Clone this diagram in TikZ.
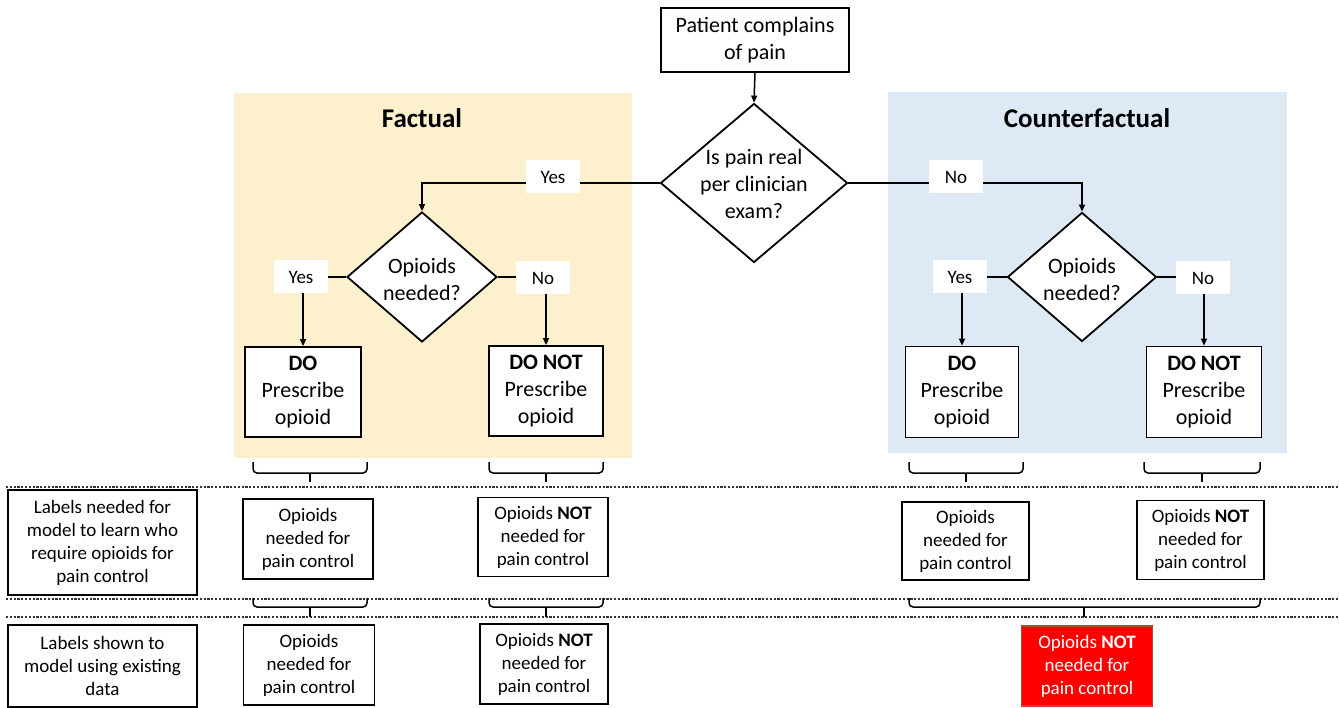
\documentclass[tikz,border=0pt]{standalone}
\usepackage{fontspec}
\setmainfont{Carlito}
\usetikzlibrary{arrows.meta,shapes.geometric}
\definecolor{factfill}{HTML}{FDF0CD}
\definecolor{cfill}{HTML}{DDE9F5}
\definecolor{alertred}{HTML}{FF0000}
\definecolor{alertedge}{HTML}{B5472F}
\begin{document}
\begin{tikzpicture}[x=1pt,y=-1pt,
  box/.style={draw,line width=1.8pt,fill=white,align=center,inner sep=0pt,
    font=\fontsize{22}{27}\selectfont},
  lab/.style={box,font=\fontsize{19}{23}\selectfont},
  dia/.style={draw,line width=1.8pt,fill=white,diamond,inner sep=0pt},
  dtext/.style={align=center,inner sep=0pt,font=\fontsize{22}{27}\selectfont},
  tag/.style={fill=white,inner sep=0pt,minimum width=54pt,minimum height=33pt,
    font=\fontsize{19}{23}\selectfont},
  arr/.style={line width=1.5pt,-{Triangle[length=7pt,width=6pt]}},
  brk/.style={line width=1.5pt,rounded corners=4pt},
  tick/.style={line width=2.6pt},
  sepline/.style={line width=1.3pt,dash pattern=on 2.2pt off 1.6pt,black!80},
  ttl/.style={font=\bfseries\fontsize{27}{32}\selectfont}
]
\useasboundingbox (0,0) rectangle (1339,708);

% backgrounds
\fill[factfill] (234,93) rectangle (632,458);
\fill[cfill] (888,92) rectangle (1287,453);
\node[ttl] (ftitle) at (422,118) {Factual};
\node[ttl] (ctitle) at (1087,118) {Counterfactual};

% top
\node[box,minimum width=188pt,minimum height=64pt] (top) at (755,40) {Patient complains\\of pain};
\node[dia,minimum width=187pt,minimum height=159pt] (d1) at (754,183) {};
\node[dtext] (t1) at (754,184) {Is pain real\\per clinician\\exam?};

% second-level diamonds
\node[dia,minimum width=150pt,minimum height=130pt] (d2) at (422,277) {};
\node[dtext] (t2) at (422,279) {Opioids\\needed?};
\node[dia,minimum width=149pt,minimum height=129pt] (d3) at (1082,277) {};
\node[dtext] (t3) at (1082,279) {Opioids\\needed?};

% decision boxes
\node[box,minimum width=116pt,minimum height=90pt] (do1) at (303,392) {\textbf{DO}\\Prescribe\\opioid};
\node[box,minimum width=114pt,minimum height=90pt] (dont1) at (546,391) {\textbf{DO NOT}\\Prescribe\\opioid};
\node[box,minimum width=113pt,minimum height=91pt] (do2) at (962,392) {\textbf{DO}\\Prescribe\\opioid};
\node[box,minimum width=115pt,minimum height=91pt] (dont2) at (1204,392) {\textbf{DO NOT}\\Prescribe\\opioid};

% connectors
\draw[arr] (top.south) -- (d1.north);
\draw[arr] (d1.west) -| (d2.north);
\draw[arr] (d1.east) -| (d3.north);
\draw[arr] (d2.west) -| (do1.north);
\draw[arr] (d2.east) -| (dont1.north);
\draw[arr] (d3.west) -| (do2.north);
\draw[arr] (d3.east) -| (dont2.north);

% tags
\node[tag] (yes1) at (553,177) {Yes};
\node[tag] (no1) at (956,177) {No};
\node[tag] (yes2) at (301,277) {Yes};
\node[tag] (no2) at (543,278) {No};
\node[tag] (yes3) at (960,277) {Yes};
\node[tag] (no3) at (1203,278) {No};

% separators
\draw[sepline] (6,487) -- (1339,487);
\draw[sepline] (6,599) -- (1339,599);
\draw[sepline] (6,617) -- (1339,617);

% row labels
\node[lab,minimum width=189pt,minimum height=105pt] (rl1) at (102.5,542.5) {Labels needed for\\model to learn who\\require opioids for\\pain control};
\node[lab,minimum width=189pt,minimum height=82pt] (rl2) at (102.5,666) {Labels shown to\\model using existing\\data};

% row 1 boxes
\node[lab,minimum width=130pt,minimum height=80pt] (r1a) at (308,539) {Opioids\\needed for\\pain control};
\node[lab,minimum width=130pt,minimum height=79pt] (r1b) at (543,537) {Opioids \textbf{NOT}\\needed for\\pain control};
\node[lab,minimum width=127pt,minimum height=78pt] (r1c) at (965.5,541) {Opioids\\needed for\\pain control};
\node[lab,minimum width=127pt,minimum height=79pt] (r1d) at (1200.5,540) {Opioids \textbf{NOT}\\needed for\\pain control};

% row 2 boxes
\node[lab,minimum width=131pt,minimum height=80pt] (r2a) at (309,665) {Opioids\\needed for\\pain control};
\node[lab,minimum width=128pt,minimum height=80pt] (r2b) at (544,664) {Opioids \textbf{NOT}\\needed for\\pain control};
\node[lab,fill=alertred,draw=alertedge,text=white,minimum width=131pt,minimum height=80pt] (r2c) at (1087,666) {Opioids \textbf{NOT}\\needed for\\pain control};

% brackets row 0 -> row 1
\draw[brk] (253,462) -- (253,473) -- (367,473) -- (367,462);
\draw[tick] (310,473) -- (310,482);
\draw[brk] (489,462) -- (489,473) -- (603,473) -- (603,462);
\draw[tick] (546,473) -- (546,482);
\draw[brk] (909,462) -- (909,473) -- (1023,473) -- (1023,462);
\draw[tick] (966,473) -- (966,482);
\draw[brk] (1144,462) -- (1144,473) -- (1260,473) -- (1260,462);
\draw[tick] (1202,473) -- (1202,482);

% brackets row 1 -> row 2
\draw[brk] (253,598) -- (253,607) -- (367,607) -- (367,598);
\draw[tick] (310,607) -- (310,617);
\draw[brk] (489,598) -- (489,607) -- (603,607) -- (603,598);
\draw[tick] (546,607) -- (546,617);
\draw[brk] (909,598) -- (909,607) -- (1260,607) -- (1260,598);
\draw[tick] (1084,607) -- (1084,617);
\end{tikzpicture}
\end{document}
